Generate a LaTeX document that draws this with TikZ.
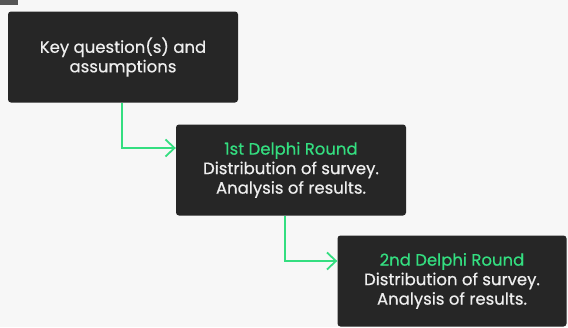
\documentclass[tikz,border=0pt]{standalone}
\usepackage{fontspec}
\setmainfont{Poppins}[UprightFeatures={FakeBold=0.5}]
\usetikzlibrary{positioning}
\usetikzlibrary{arrows.meta}
\definecolor{paper}{RGB}{247, 247, 247}
\definecolor{boxfill}{RGB}{38, 38, 38}
\definecolor{boxtext}{RGB}{238, 238, 238}
\definecolor{delphi}{RGB}{52, 222, 128}
\definecolor{tabgray}{RGB}{85, 85, 85}
\tikzstyle{darkbox} = [
	fill=boxfill,
	text=boxtext,
	rounded corners=3pt,
	minimum width=230pt,
	minimum height=91pt,
	align=center,
	font=\fontsize{16.5}{19.5}\selectfont
]
\tikzstyle{flow} = [
	draw=delphi,
	line width=1.8pt,
	-{Straight Barb[length=9pt, width=17pt, line width=1.8pt]}
]
\newcommand{\roundtitle}[1]{\textcolor{delphi}{#1}}

\begin{document}
\begin{tikzpicture}
	\fill[paper] (0,0) rectangle (568pt,-327pt);
	\useasboundingbox (0,0) rectangle (568pt,-327pt);
	\fill[tabgray] (0,0) rectangle (18pt,-5pt);

	% Boxes
	\node[darkbox] (key) at (123pt,-57pt) {Key question(s) and\\assumptions};
	\node[darkbox] (round1) at (291pt,-170pt) {\roundtitle{1st Delphi Round}\\Distribution of survey.\\Analysis of results.};
	\node[darkbox, minimum width=229pt] (round2) at (452pt,-281pt) {\roundtitle{2nd Delphi Round}\\Distribution of survey.\\Analysis of results.};

	% Connectors
	\draw[flow] ([xshift=-1pt]key.south) |- ([yshift=22pt]round1.west);
	\draw[flow] ([xshift=-6pt]round1.south) |- ([yshift=20pt]round2.west);

\end{tikzpicture}
\end{document}
